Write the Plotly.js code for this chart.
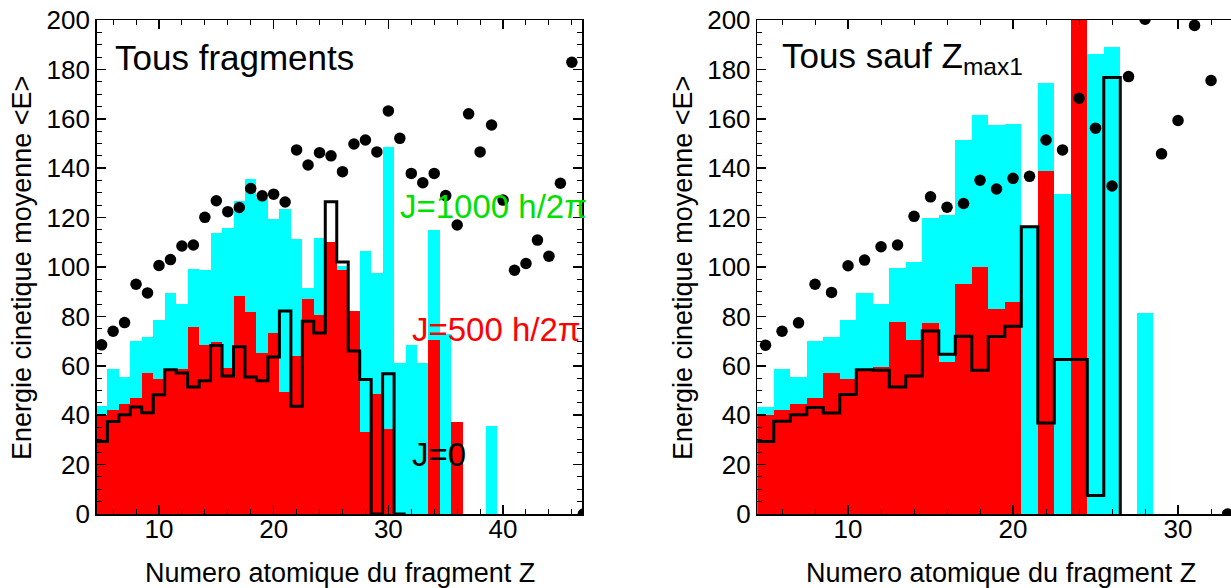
<!DOCTYPE html>
<html>
<head>
<meta charset="utf-8">
<script src="https://cdn.plot.ly/plotly-3.0.1.min.js"></script>
<style>html,body{margin:0;padding:0;background:#fff;overflow:hidden}</style>
</head>
<body>
<div id="chart" style="width:1231px;height:588px"></div>
<script>
// ---------- Left panel: "Tous fragments" ----------
const leftBarZ = [5,6,7,8,9,10,11,12,13,14,15,16,17,18,19,20,21,22,23,24,25,26,27,28,29,30,31,32,33,34,35,36,37,38,39];
const leftCyan = [43.6,58.9,55.5,70.1,71.7,78.5,89.3,85.2,99,98.7,113.6,115.9,126.7,135.6,127.8,119.4,123.5,111.3,91.5,111.6,null,100.5,null,106.4,97.4,148.7,61.2,68.3,61,114.9,73,null,null,null,35.6];
const leftRed  = [40,42.2,44.4,47,57.2,54.5,58.6,58.9,75.7,68.3,69.7,59.3,88.2,81.8,65.3,73.3,49.4,63.9,87,80.6,110,98.7,82.1,33.4,48.7,34.5,null,null,null,70.3,null,37.2,null,null,null];
const leftJ0Z  = [5,6,7,8,9,10,11,12,13,14,15,16,17,18,19,20,21,22,23,24,25,26,27,28,29,30,31];
const leftJ0   = [29.4,37.5,40.2,43.3,41,48.3,58.4,57.1,51.4,53.9,68.2,55.9,67.7,55.5,53.9,63.6,82.2,43.6,78,73.3,126.4,102,66,54.5,0,56.8,0];
const leftDotZ = [5,6,7,8,9,10,11,12,13,14,15,16,17,18,19,20,21,22,23,24,25,26,27,28,29,30,31,32,33,34,35,36,37,38,39,40,41,42,43,44,45,46,47];
const leftDots = [68.5,74,77.5,93,89.5,100.6,103,108.5,108.9,120.1,126.8,122.4,124.1,131.8,128.8,129.5,126.3,147.4,141.3,146.3,145,138.6,149.8,151.4,146.6,163.2,152.1,137.9,134.1,137.9,128.9,117,162,146.6,157.5,127.1,98.7,101.4,110.9,104.4,133.9,182.9,0];

// ---------- Right panel: "Tous sauf Zmax1" ----------
const rightBarZ = [5,6,7,8,9,10,11,12,13,14,15,16,17,18,19,20,21,22,23,24,25,26,27,28];
const rightCyan = [43.3,58.9,55.5,70.1,71.7,78.5,89.3,85.2,99.4,102.1,119.7,121,151.5,161.6,157.5,157.9,116.5,174.5,129.6,null,186.4,189.2,null,81.3];
const rightRed  = [40,42.2,44.4,47,57.2,54.5,58.6,59.5,77.7,70.5,77.3,61.6,93.3,99.8,82.8,85.9,null,138.7,null,230,null,null,null,null];
const rightJ0Z  = [5,6,7,8,9,10,11,12,13,14,15,16,17,18,19,20,21,22,23,24,25,26];
const rightJ0   = [29.4,37.6,40.2,43.1,40.9,48.4,58.4,58.2,51.4,55.9,74.1,64.7,72,58.2,71.9,76,116.3,36.8,62.6,62.6,7.5,176.7];
const rightDotZ = [5,6,7,8,9,10,11,12,13,14,15,16,17,18,19,20,21,22,23,24,25,26,27,28,29,30,31,32,33];
const rightDots = [68.3,74,77.4,93,89.7,100.5,102.8,108.2,108.9,120.5,128.4,124.2,125.7,135.1,131.6,135.9,136.7,151.4,147.4,168.3,156.2,132.8,177.1,200.3,145.8,159.3,197.8,175.5,0];

// Text
const xTitle = "Numero atomique du fragment Z";
const yTitle = "Energie cinetique moyenne &lt;E&gt;";
const leftLabel = "Tous fragments";
const rightLabel = "Tous sauf Z<sub>max1</sub>";
const labelJ1000 = "J=1000 h/2\u03c0";
const labelJ500 = "J=500 h/2\u03c0";
const labelJ0 = "J=0";

// Histogram outline (step) built from bin centres
function step(z, v) {
  const xs = [], ys = [];
  for (let i = 0; i < z.length; i++) { xs.push(z[i] - 0.5); ys.push(v[i]); }
  const last = z[z.length - 1] + 0.5;
  xs.push(last); ys.push(v[v.length - 1]);
  xs.push(last); ys.push(0);
  return {x: xs, y: ys};
}

const CYAN = '#00ffff', RED = '#ff0000';
const FONT = 'Liberation Sans, Arial, Helvetica, sans-serif';

function panel(xa, ya, bz, cy, rd, jz, j0, dz, dv) {
  const s = step(jz, j0);
  return [
    {type:'bar', x: bz, y: cy, width: 1, marker:{color: CYAN, line:{width:0}}, xaxis: xa, yaxis: ya, name:'J=1000'},
    {type:'bar', x: bz, y: rd, width: 1, marker:{color: RED, line:{width:0}}, xaxis: xa, yaxis: ya, name:'J=500'},
    {type:'scatter', mode:'lines', x: s.x, y: s.y, line:{color:'#000', width:3, shape:'hv'}, xaxis: xa, yaxis: ya, name:'J=0'},
    {type:'scatter', mode:'markers', x: dz, y: dv, marker:{color:'#000', size:11.5}, xaxis: xa, yaxis: ya, name:'<E>', cliponaxis: true}
  ];
}

const data = [].concat(
  panel('x', 'y', leftBarZ, leftCyan, leftRed, leftJ0Z, leftJ0, leftDotZ, leftDots),
  panel('x2', 'y2', rightBarZ, rightCyan, rightRed, rightJ0Z, rightJ0, rightDotZ, rightDots)
);

const W = 1231, T = 20, B = 514;
const px = v => v / W;
const py = v => (B - v) / (B - T);

function xax(domain, range, mirror) {
  return {domain: domain, range: range, showgrid:false, zeroline:false, showline:true, linecolor:'#000', linewidth:1.5,
    mirror: mirror, ticks:'inside', ticklen:9, tickwidth:1.5, tickcolor:'#000', dtick:10, tick0:0,
    ticklabelstandoff: -9,
    minor:{dtick:2, tick0:0, ticks:'inside', ticklen:5, tickwidth:1, tickcolor:'#000'},
    tickfont:{family: FONT, size:26, color:'#000'}, fixedrange:true};
}
function yax(anchor, mirror) {
  return {anchor: anchor, domain:[0,1], range:[0,200], showgrid:false, zeroline:false, showline:true, linecolor:'#000', linewidth:1.5,
    mirror: mirror, ticks:'inside', ticklen:9, tickwidth:1.5, tickcolor:'#000', dtick:20, tick0:0,
    minor:{dtick:5, tick0:0, ticks:'inside', ticklen:5, tickwidth:1, tickcolor:'#000'},
    tickfont:{family: FONT, size:26, color:'#000'}, fixedrange:true};
}

const xaL = xax([px(96.7), px(582.3)], [4.57, 46.91], 'ticks'); xaL.anchor = 'y';
const xaR = xax([px(757.3), 1], [4.5, 33.21], 'ticks'); xaR.anchor = 'y2';

function ann(text, x, y, size, color, extra) {
  return Object.assign({text: text, xref:'paper', yref:'paper', x: x, y: y, showarrow:false,
    font:{family: FONT, size: size, color: color}, xanchor:'left', yanchor:'middle'}, extra || {});
}

const layout = {
  width: 1231, height: 588,
  margin:{l:0, r:0, t:T, b:588 - B, pad:0},
  paper_bgcolor:'#fff', plot_bgcolor:'#fff',
  showlegend:false, barmode:'overlay', bargap:0,
  xaxis: xaL, yaxis: yax('x', 'ticks'),
  xaxis2: xaR, yaxis2: yax('x2', false),
  annotations:[
    ann(leftLabel, px(113), py(58), 35, '#000'),
    ann(rightLabel, px(780), py(58), 35, '#000'),
    ann(labelJ1000, px(398), py(207), 33, '#00e000'),
    ann(labelJ500, px(410), py(329), 33, RED),
    ann(labelJ0, px(410), py(454), 33, '#000'),
    ann(yTitle, px(22), py(268), 27, '#000', {textangle:-90, xanchor:'center'}),
    ann(yTitle, px(683), py(268), 27, '#000', {textangle:-90, xanchor:'center'}),
    ann(xTitle, px(340), py(573), 27, '#000', {xanchor:'center'}),
    ann(xTitle, px(1001), py(573), 27, '#000', {xanchor:'center'})
  ]
};

Plotly.newPlot('chart', data, layout, {displayModeBar:false, staticPlot:true});
</script>
</body>
</html>
